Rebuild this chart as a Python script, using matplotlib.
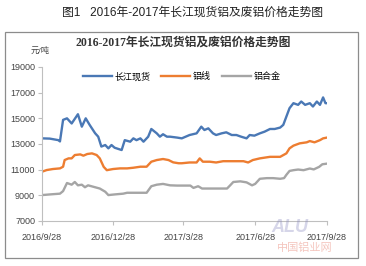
import pandas as pd
import matplotlib
matplotlib.use('Agg')
import matplotlib.pyplot as plt
import matplotlib.dates as mdates
from matplotlib.patches import Rectangle

plt.rcParams['font.family'] = ['Liberation Sans', 'Noto Sans CJK SC']

# 长江现货 (元/吨)
spot_dates = ['2016-09-28', '2016-10-08', '2016-10-19', '2016-10-21', '2016-10-25', '2016-10-30',
              '2016-11-05', '2016-11-13', '2016-11-18', '2016-11-23', '2016-11-28', '2016-12-05',
              '2016-12-09', '2016-12-13', '2016-12-18', '2016-12-22', '2016-12-26', '2016-12-30',
              '2017-01-08', '2017-01-12', '2017-01-19', '2017-01-23', '2017-01-27', '2017-02-01',
              '2017-02-05', '2017-02-11', '2017-02-15', '2017-02-22', '2017-02-26', '2017-03-02',
              '2017-03-07', '2017-03-11', '2017-03-20', '2017-03-26', '2017-04-05', '2017-04-14',
              '2017-04-20', '2017-04-24', '2017-04-29', '2017-05-05', '2017-05-09', '2017-05-16',
              '2017-05-22', '2017-05-29', '2017-06-04', '2017-06-10', '2017-06-17', '2017-06-21',
              '2017-06-27', '2017-07-04', '2017-07-10', '2017-07-17', '2017-07-23', '2017-07-30',
              '2017-08-03', '2017-08-07', '2017-08-11', '2017-08-16', '2017-08-22', '2017-08-26',
              '2017-08-31', '2017-09-06', '2017-09-10', '2017-09-15', '2017-09-19', '2017-09-23',
              '2017-09-26', '2017-09-28']
spot = [13440, 13420, 13300, 13200, 14880, 15000,
        14600, 15320, 14350, 15000, 14490, 13840,
        13570, 12800, 12920, 12660, 12920, 12710,
        12530, 13300, 13180, 13440, 13300, 13440,
        13180, 13570, 14170, 13830, 13570, 13760,
        13570, 13570, 13500, 13440, 13700, 13830,
        14350, 14090, 14220, 13830, 13700, 13830,
        13910, 13700, 13700, 13570, 13440, 13700,
        13650, 13830, 13960, 14170, 14170, 14280,
        14490, 15140, 15790, 16180, 16050, 16310,
        16050, 16180, 15920, 16310, 16050, 16630,
        16180, 16180]

# 铝线
wire_dates = ['2016-09-28', '2016-10-04', '2016-10-12', '2016-10-21', '2016-10-25', '2016-10-27',
              '2016-11-01', '2016-11-05', '2016-11-09', '2016-11-16', '2016-11-20', '2016-11-25',
              '2016-12-01', '2016-12-07', '2016-12-11', '2016-12-16', '2016-12-20', '2016-12-28',
              '2017-01-06', '2017-01-15', '2017-01-23', '2017-02-01', '2017-02-09', '2017-02-15',
              '2017-02-22', '2017-03-02', '2017-03-09', '2017-03-15', '2017-03-22', '2017-03-26',
              '2017-04-05', '2017-04-14', '2017-04-18', '2017-04-22', '2017-05-01', '2017-05-09',
              '2017-05-18', '2017-05-31', '2017-06-13', '2017-06-19', '2017-06-25', '2017-07-04',
              '2017-07-17', '2017-07-30', '2017-08-07', '2017-08-11', '2017-08-16', '2017-08-24',
              '2017-09-02', '2017-09-06', '2017-09-12', '2017-09-19', '2017-09-23', '2017-09-28']
wire = [10840, 10970, 11050, 11100, 11230, 11750,
        11880, 11880, 12140, 12190, 12090, 12220,
        12270, 12140, 11880, 11220, 10960, 11050,
        11100, 11100, 11150, 11230, 11230, 11620,
        11750, 11830, 11750, 11570, 11500, 11500,
        11560, 11560, 11880, 11620, 11620, 11560,
        11660, 11660, 11660, 11560, 11750, 11880,
        12000, 12000, 12270, 12660, 12870, 13050,
        13130, 13230, 13130, 13300, 13440, 13500]

# 铝合金
alloy_dates = ['2016-09-28', '2016-10-08', '2016-10-21', '2016-10-25', '2016-10-30', '2016-11-05',
               '2016-11-09', '2016-11-13', '2016-11-18', '2016-11-22', '2016-11-26', '2016-12-05',
               '2016-12-11', '2016-12-18', '2016-12-22', '2016-12-30', '2017-01-10', '2017-01-15',
               '2017-01-23', '2017-02-01', '2017-02-09', '2017-02-15', '2017-02-22', '2017-03-02',
               '2017-03-11', '2017-03-20', '2017-03-28', '2017-04-06', '2017-04-10', '2017-04-16',
               '2017-04-21', '2017-04-27', '2017-05-10', '2017-05-23', '2017-05-27', '2017-05-31',
               '2017-06-09', '2017-06-17', '2017-06-24', '2017-06-28', '2017-07-04', '2017-07-13',
               '2017-07-21', '2017-07-30', '2017-08-04', '2017-08-07', '2017-08-11', '2017-08-16',
               '2017-08-22', '2017-08-29', '2017-09-06', '2017-09-11', '2017-09-18', '2017-09-22',
               '2017-09-28']
alloy = [9020, 9070, 9130, 9330, 9960, 9830,
         10040, 9780, 9830, 9630, 9780, 9630,
         9530, 9280, 9020, 9070, 9130, 9200,
         9200, 9200, 9200, 9710, 9830, 9890,
         9780, 9760, 9760, 9760, 9580, 9710,
         9530, 9530, 9530, 9530, 9780, 10040,
         10090, 10010, 9780, 9890, 10290, 10340,
         10340, 10290, 10340, 10600, 10900, 10960,
         11010, 10960, 11090, 11020, 11220, 11420,
         11470]

y_ticks = [7000, 9000, 11000, 13000, 15000, 17000, 19000]
x_ticks = ['2016-09-28', '2016-12-28', '2017-03-28', '2017-06-28', '2017-09-28']

fig = plt.figure(figsize=(3.66, 2.66), dpi=100)
fig.patch.set_facecolor('white')

# outer frame of the chart area
fig.patches.append(Rectangle((4.5 / 366, 1 - 258 / 266), 353 / 366, 226 / 266,
                             transform=fig.transFigure, fill=False,
                             edgecolor='#8c8c8c', linewidth=0.9))

fig.text(0.525, 1 - 13 / 266, '图1   2016年-2017年长江现货铝及废铝价格走势图',
         ha='center', va='center', fontsize=8.5, color='#222222',
         family=['Liberation Sans', 'Noto Sans CJK SC'])
fig.text(0.50, 1 - 43 / 266, '2016-2017年长江现货铝及废铝价格走势图',
         ha='center', va='center', fontsize=8.5, fontweight='bold', color='#333333',
         family=['Liberation Serif', 'Noto Sans CJK SC'])
fig.text(40 / 366, 1 - 51 / 266, '元/吨', ha='center', va='center', fontsize=6, color='#444444')

ax = fig.add_axes([42 / 366, 1 - 221 / 266, 285 / 366, 154 / 266])
ax.plot(pd.to_datetime(spot_dates), spot, color='#4A78B5', linewidth=1.7, label='长江现货')
ax.plot(pd.to_datetime(wire_dates), wire, color='#ED7D31', linewidth=1.7, label='铝线')
ax.plot(pd.to_datetime(alloy_dates), alloy, color='#A5A5A5', linewidth=1.7, label='铝合金')

ax.set_ylim(7000, 19000)
ax.set_yticks(y_ticks)
ax.set_xlim(pd.Timestamp(x_ticks[0]), pd.Timestamp(x_ticks[-1]))
ax.set_xticks(pd.to_datetime(x_ticks))
ax.set_xticklabels([f'{d.year}/{d.month}/{d.day}' for d in pd.to_datetime(x_ticks)])

for s in ['top', 'right']:
    ax.spines[s].set_visible(False)
for s in ['left', 'bottom']:
    ax.spines[s].set_color('#bfbfbf')
    ax.spines[s].set_linewidth(0.8)
ax.tick_params(axis='both', labelsize=6.5, colors='#444444', length=3, width=0.8, pad=2)
ax.tick_params(axis='x', pad=6)
ax.tick_params(color='#bfbfbf')

ax.legend(loc='upper center', bbox_to_anchor=(0.49, 1.02), ncol=3, frameon=False,
          fontsize=6.5, handlelength=3.2, columnspacing=1.2, handletextpad=0.3)

# watermark
fig.text(305 / 366, 1 - 248 / 266, '中国铝业网', ha='center', va='center',
         fontsize=8, color='#f2b8ae', alpha=0.8)
fig.text(290 / 366, 1 - 227 / 266, 'ALU', ha='center', va='center', fontsize=13,
         fontweight='bold', style='italic', color='#8a8ac0', alpha=0.35)

fig.savefig('out.png', dpi=100)
